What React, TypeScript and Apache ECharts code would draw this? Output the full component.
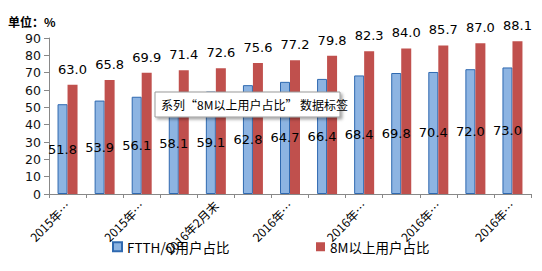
import React, { useEffect, useRef } from "react";
import * as echarts from "echarts";

const categories = [
  "2015年…", "2015年…", "2015年…", "2016年…", "2016年2月末", "2016年…", "2016年…",
  "2016年…", "2016年…", "2016年…", "2016年…", "2016年…", "2016年…",
];
const ftthShare = [51.8, 53.9, 56.1, 58.1, 59.1, 62.8, 64.7, 66.4, 68.4, 69.8, 70.4, 72.0, 73.0];
const m8Share = [63.0, 65.8, 69.9, 71.4, 72.6, 75.6, 77.2, 79.8, 82.3, 84.0, 85.7, 87.0, 88.1];
const seriesNames = ["FTTH/O用户占比", "8M以上用户占比"];
const unitText = "单位：%";
const hoverText = "系列“8M以上用户占比” 数据标签";

const CJK = "'Noto Sans CJK SC', 'Noto Sans', sans-serif";
const NUM = "'DejaVu Sans', sans-serif";

export default function App() {
  const ref = useRef<HTMLDivElement>(null);
  useEffect(() => {
    if (!ref.current) return;
    const chart = echarts.init(ref.current, undefined, { renderer: "svg" });
    const fmt = (p: any) => Number(p.value).toFixed(1);
    chart.setOption({
      animation: false,
      backgroundColor: "#ffffff",
      grid: { left: 49, top: 38, width: 482, height: 156, containLabel: false },
      xAxis: {
        type: "category",
        data: categories,
        boundaryGap: true,
        axisLine: { show: true, lineStyle: { color: "#888888", width: 1 } },
        axisTick: { show: true, interval: 0, alignWithLabel: false, length: 4, lineStyle: { color: "#888888" } },
        axisLabel: {
          interval: 1,
          rotate: 45,
          margin: 9,
          color: "#000000",
          fontSize: 12,
          fontFamily: CJK,
        },
        splitLine: { show: false },
      },
      yAxis: {
        type: "value",
        min: 0,
        max: 90,
        interval: 10,
        axisLine: { show: true, lineStyle: { color: "#888888", width: 1 } },
        axisTick: { show: true, length: 5, inside: false, lineStyle: { color: "#888888" } },
        axisLabel: { color: "#111111", fontSize: 12.5, fontFamily: NUM, margin: 8 },
        splitLine: { show: false },
      },
      legend: [
        {
          data: [seriesNames[0]],
          left: 112,
          top: 240,
          padding: 0,
          itemWidth: 9,
          itemHeight: 9,
          icon: "rect",
          textStyle: { color: "#000000", fontSize: 13.5, fontFamily: CJK },
        },
        {
          data: [seriesNames[1]],
          left: 316,
          top: 240,
          padding: 0,
          itemWidth: 9,
          itemHeight: 9,
          icon: "rect",
          textStyle: { color: "#000000", fontSize: 13.5, fontFamily: CJK },
        },
      ],
      series: [
        {
          name: seriesNames[0],
          type: "bar",
          data: ftthShare,
          barWidth: 10,
          barGap: "0%",
          itemStyle: { color: "#8DB4E2", borderColor: "#2F69B0", borderWidth: 1 },
          label: {
            show: true,
            position: "inside",
            formatter: fmt,
            color: "#000000",
            fontSize: 13,
            fontFamily: NUM,
          },
        },
        {
          name: seriesNames[1],
          type: "bar",
          data: m8Share,
          barWidth: 10,
          barGap: "0%",
          itemStyle: { color: "#C0504D" },
          label: {
            show: true,
            position: "top",
            distance: 9,
            formatter: fmt,
            color: "#000000",
            fontSize: 13,
            fontFamily: NUM,
          },
        },
      ],
      graphic: [
        {
          type: "text",
          left: 8,
          top: 15,
          style: { text: unitText, fill: "#000000", font: `bold 12px ${CJK}` },
        },
        {
          type: "rect",
          z: 200,
          zlevel: 0,
          shape: { x: 155, y: 92, width: 185, height: 25 },
          style: {
            fill: "#ffffff",
            stroke: "#9a9a9a",
            lineWidth: 1,
            shadowBlur: 3,
            shadowOffsetX: 2,
            shadowOffsetY: 2,
            shadowColor: "rgba(0,0,0,0.35)",
          },
        },
        {
          type: "text",
          z: 201,
          zlevel: 0,
          x: 161,
          y: 104.5,
          style: {
            text: hoverText,
            fill: "#000000",
            font: `12px ${CJK}`,
            verticalAlign: "middle",
          },
        },
      ],
    });
    return () => chart.dispose();
  }, []);
  return (
    <div
      ref={ref}
      style={{ position: "fixed", left: 0, top: 0, width: 542, height: 271 }}
    />
  );
}
